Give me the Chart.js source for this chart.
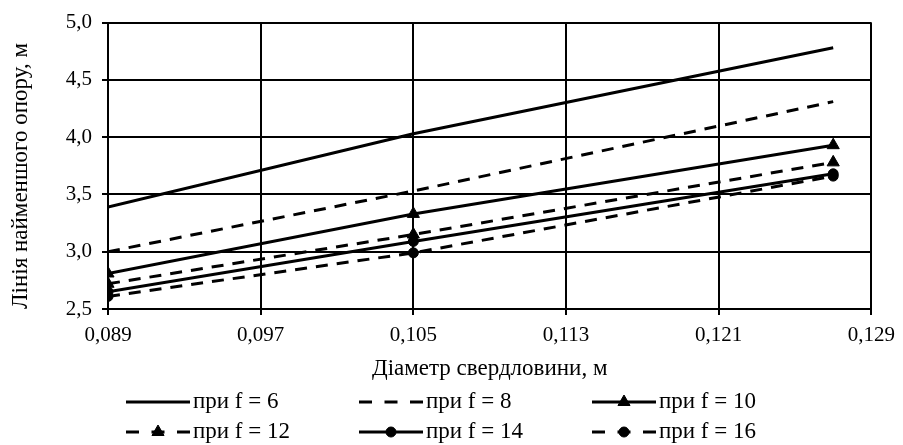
<!DOCTYPE html>
<html>
<head>
<meta charset="utf-8">
<script src="https://cdn.jsdelivr.net/npm/chart.js@4/dist/chart.umd.min.js"></script>
<style>
  html, body { margin: 0; padding: 0; background: #fff; }
  canvas { display: block; }
</style>
</head>
<body>
<canvas id="chart" width="903" height="445"></canvas>
<script>
// діаметр свердловини, м
const diameters = [0.089, 0.105, 0.127];

// лінія найменшого опору, м
const f6  = [3.39, 4.03, 4.78];
const f8  = [3.00, 3.53, 4.31];
const f10 = [2.81, 3.33, 3.93];
const f12 = [2.72, 3.15, 3.78];
const f14 = [2.65, 3.09, 3.68];
const f16 = [2.61, 2.99, 3.66];

const seriesLabels = ['при f = 6', 'при f = 8', 'при f = 10', 'при f = 12', 'при f = 14', 'при f = 16'];

const xTicks = [0.089, 0.097, 0.105, 0.113, 0.121, 0.129];
const yTicks = [2.5, 3.0, 3.5, 4.0, 4.5, 5.0];

const FONT = 'Liberation Serif, Times New Roman, DejaVu Serif, serif';
const DASH = [12, 9];

function points(values) {
    return values.map((v, i) => ({ x: diameters[i], y: v }));
}

function series(label, values, dashed, marker, radius) {
    return {
        label: label,
        data: points(values),
        borderColor: '#000',
        backgroundColor: '#000',
        borderWidth: 3,
        borderDash: dashed ? DASH : [],
        pointStyle: marker || 'circle',
        pointRadius: marker ? radius : 0,
        pointHoverRadius: marker ? radius : 0,
        pointBackgroundColor: '#000',
        pointBorderColor: '#000',
        pointBorderWidth: 1,
        tension: 0,
        fill: false
    };
}

// легенда у три колонки під графіком
const gridLegend = {
    id: 'gridLegend',
    afterDraw(chart) {
        const ctx = chart.ctx;
        const left = 126, colWidth = 233, top = 402, rowHeight = 30, sample = 64;
        chart.data.datasets.forEach((ds, i) => {
            const x = left + (i % 3) * colWidth;
            const y = top + Math.floor(i / 3) * rowHeight;
            ctx.save();
            ctx.strokeStyle = '#000';
            ctx.fillStyle = '#000';
            ctx.lineWidth = 3;
            ctx.setLineDash(ds.borderDash.length ? [13, 12.5] : []);
            ctx.beginPath();
            ctx.moveTo(x, y);
            ctx.lineTo(x + sample, y);
            ctx.stroke();
            ctx.setLineDash([]);
            if (ds.pointRadius > 0) {
                ctx.lineWidth = 1;
                Chart.helpers.drawPoint(ctx, {
                    pointStyle: ds.pointStyle,
                    radius: ds.pointRadius,
                    rotation: 0,
                    borderWidth: 1
                }, x + sample / 2, y);
            }
            ctx.font = '23px ' + FONT;
            ctx.textAlign = 'left';
            ctx.textBaseline = 'middle';
            ctx.fillText(ds.label, x + sample + 3, y);
            ctx.restore();
        });
    }
};

new Chart(document.getElementById('chart'), {
    type: 'line',
    data: {
        datasets: [
            series(seriesLabels[0], f6, false),
            series(seriesLabels[1], f8, true),
            series(seriesLabels[2], f10, false, 'triangle', 7),
            series(seriesLabels[3], f12, true, 'triangle', 7),
            series(seriesLabels[4], f14, false, 'circle', 5),
            series(seriesLabels[5], f16, true, 'circle', 5)
        ]
    },
    options: {
        responsive: false,
        animation: false,
        layout: { padding: { left: 0, top: 16, right: 27, bottom: 60 } },
        plugins: {
            legend: { display: false },
            tooltip: { enabled: false }
        },
        scales: {
            x: {
                type: 'linear',
                min: 0.089,
                max: 0.129,
                afterBuildTicks: scale => { scale.ticks = xTicks.map(v => ({ value: v })); },
                afterFit: scale => { scale.height = 76; },
                ticks: {
                    color: '#000',
                    font: { family: FONT, size: 21 },
                    padding: 8,
                    maxRotation: 0,
                    callback: v => v.toFixed(3).replace('.', ',')
                },
                grid: { color: '#000', lineWidth: 2, tickLength: 6, tickColor: '#000' },
                border: { color: '#000', width: 2 },
                title: {
                    display: true,
                    text: 'Діаметр свердловини, м',
                    color: '#000',
                    font: { family: FONT, size: 23 },
                    padding: { top: 0, bottom: 2 }
                }
            },
            y: {
                min: 2.5,
                max: 5.0,
                afterBuildTicks: scale => { scale.ticks = yTicks.map(v => ({ value: v })); },
                afterFit: scale => { scale.width = 108; },
                ticks: {
                    color: '#000',
                    font: { family: FONT, size: 21 },
                    padding: 10,
                    callback: v => v.toFixed(1).replace('.', ',')
                },
                grid: { color: '#000', lineWidth: 2, tickLength: 6, tickColor: '#000' },
                border: { color: '#000', width: 2 },
                title: {
                    display: true,
                    text: 'Лінія найменшого опору, м',
                    align: 'start',
                    color: '#000',
                    font: { family: FONT, size: 23 },
                    padding: { top: 7, bottom: 0 }
                }
            }
        }
    },
    plugins: [gridLegend]
});
</script>
</body>
</html>
